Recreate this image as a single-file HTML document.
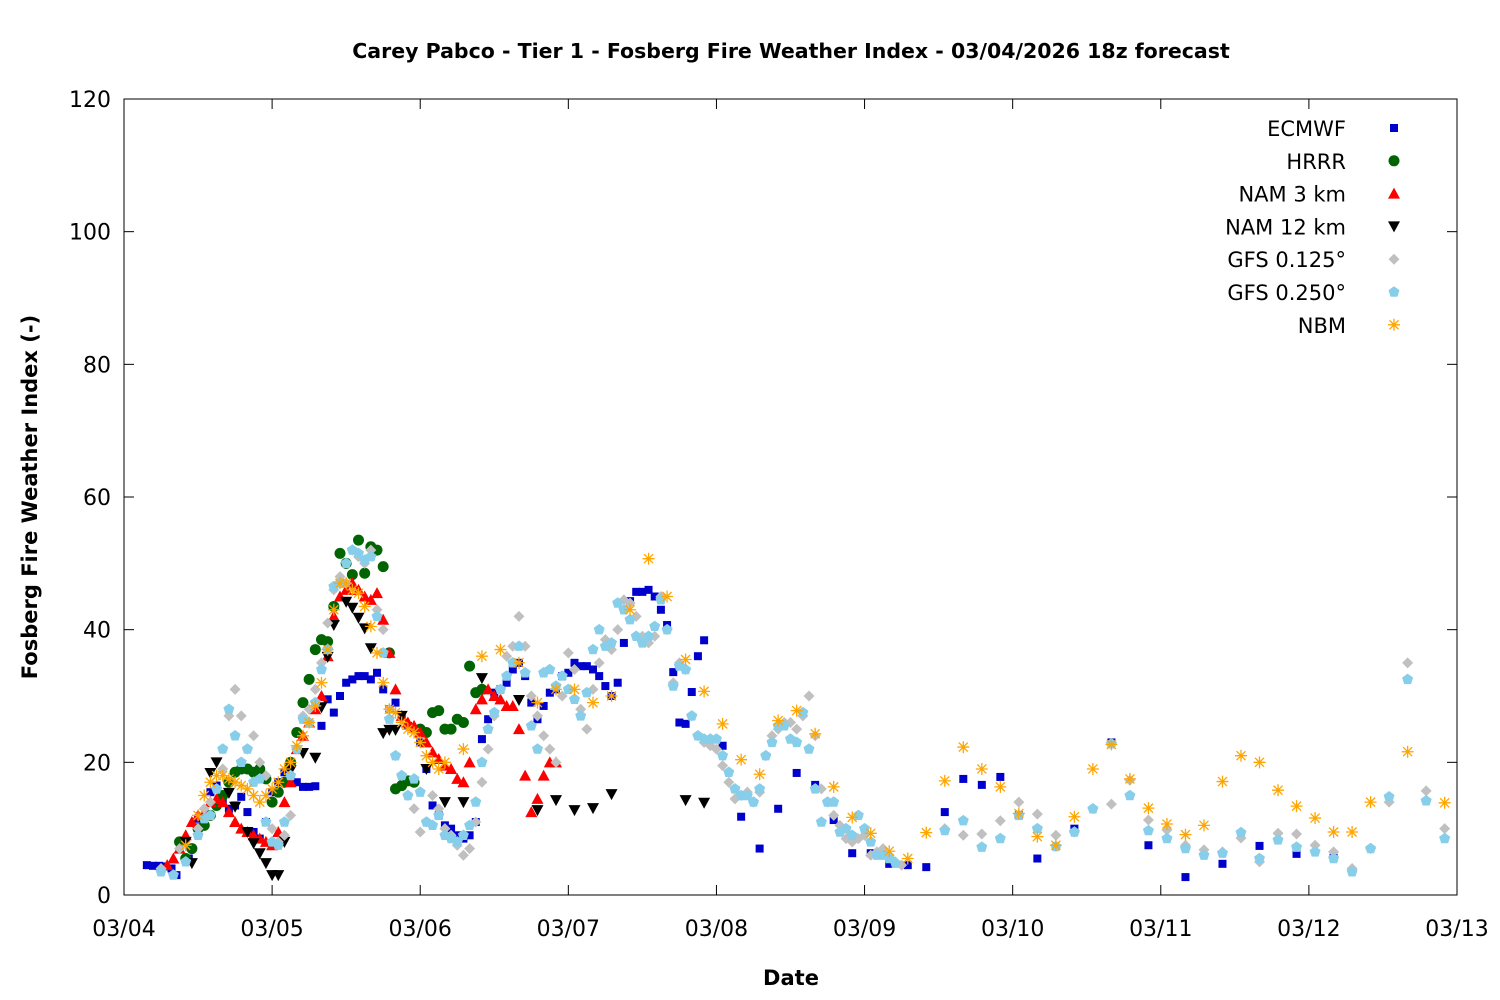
<!DOCTYPE html>
<html><head><meta charset="utf-8"><style>
body{margin:0;background:#fff}
svg{display:block;font-family:"DejaVu Sans","Liberation Sans",sans-serif}
</style></head><body>
<svg id="chart" width="1500" height="1000">
<rect width="1500" height="1000" fill="#fff"/>
<text x="791" y="58" text-anchor="middle" font-size="20.5" font-weight="bold">Carey Pabco - Tier 1 - Fosberg Fire Weather Index - 03/04/2026 18z forecast</text>
<text x="791" y="985" text-anchor="middle" font-size="21" font-weight="bold">Date</text>
<text transform="translate(37,497) rotate(-90)" text-anchor="middle" font-size="21" font-weight="bold">Fosberg Fire Weather Index (-)</text>
<g id="axes"></g><g id="marks"></g><g id="legend"></g>
</svg>
<script>
const xTickLabels=["03/04","03/05","03/06","03/07","03/08","03/09","03/10","03/11","03/12","03/13"];
const yTicks=[0,20,40,60,80,100,120];
const seriesNames=["ECMWF","HRRR","NAM 3 km","NAM 12 km","GFS 0.125°","GFS 0.250°","NBM"];
const ecmwf=[[3.7,4.5],[4.7,4.4],[5.7,4.4],[6.7,4.3],[7.7,4.0],[8.5,3.0],[10.5,5.5],[12,11.5],[14,15.5],[15,16.5],[16,14],[17,13],[18,13.5],[19,14.8],[20,12.5],[21,9.5],[22,8.5],[23,11],[24,15.5],[25,17],[26,18.5],[27,17.5],[28,17],[29,16.3],[30,16.3],[31,16.4],[32,25.5],[33,29.5],[34,27.5],[35,30],[36,32],[37,32.5],[38,33],[39,33],[40,32.5],[41,33.5],[42,31],[43,28],[44,29],[45,27],[46,25.5],[47,25],[48,23],[49,19],[50,13.5],[51,12],[52,10.5],[53,10],[54,9],[55,8.5],[56,9],[57,11],[58,23.5],[59,26.5],[60,30.5],[61,31],[62,32],[63,34],[64,35],[65,33],[66,29],[67,26.5],[68,28.5],[69,30.5],[70,31],[71,33],[72,33.5],[73,35],[74,34.5],[75,34.5],[76,34],[77,33],[78,31.5],[79,30],[80,32],[81,38],[82,44.3],[83,45.7],[84,45.7],[85,46],[86,45],[87,43],[88,40.7],[89,33.6],[90,26],[91,25.8],[92,30.6],[93,36],[94,38.4],[97,22.5],[100,11.8],[103,7],[106,13],[109,18.4],[112,16.6],[115,11.3],[118,6.3],[121,6.3],[124,4.7],[127,4.5],[130,4.2],[133,12.5],[136,17.5],[139,16.6],[142,17.8],[145,12],[148,5.5],[154,10],[160,23],[166,7.5],[172,2.7],[178,4.7],[184,7.4],[190,6.2],[196,5.6]];
const hrrr=[[9,8],[10,5.5],[11,7],[12,10],[13,10.5],[14,12],[15,13.5],[16,15],[17,17],[18,18.5],[19,19],[20,19],[21,18.5],[22,19],[23,17.5],[24,14],[25,15.5],[26,17],[27,20],[28,24.5],[29,29],[30,32.5],[31,37],[32,38.5],[33,38.2],[34,43.5],[35,51.5],[36,50],[37,48.3],[38,53.5],[39,48.5],[40,52.5],[41,52],[42,49.5],[43,36.5],[44,16],[45,16.5],[46,17.2],[47,17],[48,25],[49,24.5],[50,27.5],[51,27.8],[52,25],[53,25],[54,26.5],[55,26],[56,34.5],[57,30.5],[58,31]];
const nam3=[[7,4.5],[8,5.5],[9,7],[10,9],[11,11],[12,12],[13,12.5],[14,14],[15,14.5],[16,14],[17,12.5],[18,11],[19,10],[20,9.5],[21,9],[22,8.5],[23,8],[24,7.5],[25,9.5],[26,14],[27,17],[28,22],[29,24],[30,26],[31,28],[32,30],[33,36],[34,42],[35,45],[36,46],[37,47],[38,46],[39,45],[40,44.5],[41,45.5],[42,41.5],[43,36.5],[44,31],[45,27],[46,26],[47,25.5],[48,24.5],[49,23],[50,21.5],[51,20.5],[52,19.5],[53,19],[54,17.5],[55,17],[56,20],[57,28],[58,29.5],[59,31],[60,30],[61,29.5],[62,28.5],[63,28.5],[64,25],[65,18],[66,12.5],[67,14.5],[68,18],[69,20],[70,20]];
const nam12=[[10,8],[11,4.8],[14,18.4],[15,20],[17,15.4],[18,13.3],[20,9.5],[21,7.8],[22,6.3],[23,4.8],[24,3],[25,3],[26,8],[27,18.8],[29,21.4],[31,20.7],[32,28.3],[33,35.9],[34,40.7],[36,44.2],[37,43.3],[38,41.8],[39,40.2],[40,37.2],[42,24.4],[43,24.9],[44,24.9],[45,27],[49,19],[52,14],[55,14],[58,32.7],[64,29.4],[67,12.8],[70,14.3],[73,12.8],[76,13.1],[79,15.2],[85,38.6],[91,14.3],[94,13.9]];
const gfs125=[[6,4],[9,7],[12,10],[13,13],[14,14],[15,16],[16,19],[17,27],[18,31],[19,27],[20,22],[21,24],[22,20],[23,18],[24,10],[25,8],[26,9],[27,12],[28,22],[29,27],[30,28],[31,31],[32,35],[33,41],[34,46],[35,48],[36,47],[37,52],[38,51],[39,50],[40,52],[41,43],[42,40],[43,28],[44,21],[45,18],[46,15],[47,13],[48,9.5],[49,11],[50,15],[51,13],[52,10],[53,9],[54,7.5],[55,6],[56,7],[57,11],[58,17],[59,22],[60,27],[61,31],[62,36],[63,37.5],[64,42],[65,37.5],[66,30],[67,27],[68,24],[69,22],[70,20],[71,30],[72,36.5],[73,34],[74,28],[75,25],[76,31],[77,35],[78,38.5],[79,37],[80,40],[81,44.5],[82,44],[83,42],[84,39],[85,38],[86,39],[87,45],[88,40],[89,32],[90,35],[91,34],[92,27],[93,24],[94,23],[95,22.5],[96,22],[97,19.5],[98,17],[99,14.5],[100,15],[101,15.5],[102,14],[103,15.5],[104,21],[105,24],[106,25],[107,26],[108,26],[109,25],[110,27],[111,30],[112,24],[113,16],[114,14],[115,12],[116,10.5],[117,8.5],[118,8],[119,8.5],[120,9],[121,6],[122,6.5],[123,7],[124,6],[125,5],[126,4.5],[133,10],[136,9],[139,9.2],[142,11.2],[145,14],[148,12.2],[151,9],[154,9.5],[157,13],[160,13.7],[163,17.3],[166,11.3],[169,9.8],[172,7.5],[175,6.8],[178,6.5],[181,8.6],[184,5],[187,9.3],[190,9.2],[193,7.5],[196,6.5],[199,4],[202,7],[205,14],[208,35],[211,15.7],[214,10]];
const gfs250=[[6,3.5],[8,3],[10,5],[12,9],[13,11.5],[14,12],[15,16],[16,22],[17,28],[18,24],[19,20],[20,22],[21,17],[22,17.5],[23,11],[24,8],[25,7.5],[26,11],[27,18],[28,22],[29,26.5],[30,26],[31,29],[32,34],[33,37],[34,46.5],[35,47],[36,50],[37,52],[38,51.5],[39,50.5],[40,51],[41,42],[42,36.5],[43,26.5],[44,21],[45,18],[46,15],[47,17.5],[48,15.5],[49,11],[50,10.5],[51,12],[52,9],[53,8.5],[54,8],[55,9],[56,10.5],[57,14],[58,20],[59,25],[60,27.5],[61,31],[62,33],[63,35],[64,37.5],[65,33.5],[66,25.5],[67,22],[68,33.5],[69,34],[70,31.5],[71,33],[72,31],[73,29.5],[74,27],[75,30.5],[76,37],[77,40],[78,37.5],[79,38],[80,44],[81,43],[82,41.5],[83,39],[84,38],[85,39],[86,40.5],[87,44.5],[88,40],[89,31.5],[90,34.5],[91,34],[92,27],[93,24],[94,23.5],[95,23.5],[96,23.5],[97,21],[98,18.5],[99,16],[100,15],[101,15],[102,14],[103,16],[104,21],[105,23],[106,25.5],[107,25.5],[108,23.5],[109,23],[110,27.5],[111,22],[112,16],[113,11],[114,14],[115,14],[116,9.5],[117,10],[118,9],[119,12],[120,10],[121,8],[122,6],[123,6],[124,5.5],[125,4.8],[133,9.7],[136,11.2],[139,7.2],[142,8.5],[145,12],[148,10],[151,7.3],[154,9.5],[157,13],[160,22.8],[163,15],[166,9.7],[169,8.5],[172,7],[175,6],[178,6.3],[181,9.4],[184,5.5],[187,8.3],[190,7.2],[193,6.5],[196,5.5],[199,3.5],[202,7],[205,14.8],[208,32.5],[211,14.2],[214,8.5]];
const nbm=[[10,7.5],[12,12],[13,15],[14,17],[15,18],[16,18],[17,17.5],[18,17],[19,16.5],[20,16],[21,15],[22,14],[23,15],[24,16],[25,17],[26,19],[27,20],[28,22.5],[29,24],[30,26],[31,28.5],[32,32],[33,37],[34,43],[35,47],[36,47],[37,46],[38,45.5],[39,43.5],[40,40.5],[41,36.5],[42,32],[43,28],[44,27.5],[45,26],[46,25],[47,24.5],[48,23],[49,21],[50,20],[51,19],[52,20],[55,22],[58,36],[61,37],[64,35],[67,29],[70,31],[73,31],[76,29],[79,30],[82,43],[85,50.7],[88,45],[91,35.5],[94,30.7],[97,25.8],[100,20.4],[103,18.2],[106,26.3],[109,27.8],[112,24.3],[115,16.3],[118,11.7],[121,9.3],[124,6.6],[127,5.5],[130,9.4],[133,17.2],[136,22.3],[139,19],[142,16.3],[145,12.3],[148,8.8],[151,7.5],[154,11.8],[157,19],[160,22.7],[163,17.5],[166,13.1],[169,10.7],[172,9.1],[175,10.5],[178,17.1],[181,21],[184,20],[187,15.8],[190,13.4],[193,11.6],[196,9.5],[199,9.5],[202,14],[208,21.6],[214,13.9]];

const X0=124,X1=1457,Y0=895,Y1=99;
function xs(h){return X0+(X1-X0)*h/216;}
function ys(v){return Y0-(Y0-Y1)*v/120;}
const NS="http://www.w3.org/2000/svg";
function mk(tag,attrs,parent){const e=document.createElementNS(NS,tag);for(const k in attrs)e.setAttribute(k,attrs[k]);parent.appendChild(e);return e;}
const axes=document.getElementById('axes');
const frame=mk('rect',{x:X0,y:Y1,width:X1-X0,height:Y0-Y1,fill:'none',stroke:'#000','stroke-width':1},axes);


xTickLabels.forEach((l,i)=>{const x=xs(i*24);
 mk('line',{x1:x,x2:x,y1:Y0,y2:Y0-10,stroke:'#000'},axes);
 mk('line',{x1:x,x2:x,y1:Y1,y2:Y1+10,stroke:'#000'},axes);
 const t=mk('text',{x:x,y:Y0+41,'text-anchor':'middle','font-size':22},axes);t.textContent=l;
 
 });
yTicks.forEach(v=>{const y=ys(v);
 mk('line',{x1:X0,x2:X0+10,y1:y,y2:y,stroke:'#000'},axes);
 mk('line',{x1:X1,x2:X1-10,y1:y,y2:y,stroke:'#000'},axes);
 const t=mk('text',{x:X0-13,y:y+8,'text-anchor':'end','font-size':22},axes);t.textContent=v;
 
 });

function marker(kind,x,y,p){
 let e;
 if(kind==0)e=mk('rect',{x:x-4,y:y-4,width:8,height:8,fill:'#0000cc'},p);
 else if(kind==1)e=mk('circle',{cx:x,cy:y,r:5.5,fill:'#006400'},p);
 else if(kind==2)e=mk('polygon',{points:`${x},${y-6} ${x-6},${y+5} ${x+6},${y+5}`,fill:'#ff0000'},p);
 else if(kind==3)e=mk('polygon',{points:`${x},${y+6} ${x-6},${y-5} ${x+6},${y-5}`,fill:'#000'},p);
 else if(kind==4)e=mk('polygon',{points:`${x},${y-5.5} ${x+5.5},${y} ${x},${y+5.5} ${x-5.5},${y}`,fill:'#c0c0c0'},p);
 else if(kind==5){let pts=[];for(let i=0;i<5;i++){const a=-Math.PI/2+i*2*Math.PI/5;pts.push((x+5.8*Math.cos(a)).toFixed(1)+','+(y+5.8*Math.sin(a)).toFixed(1));}
  e=mk('polygon',{points:pts.join(' '),fill:'#87ceeb'},p);}
 else {e=mk('path',{d:`M${x-6},${y}H${x+6}M${x},${y-6}V${y+6}M${x-4.5},${y-4.5}L${x+4.5},${y+4.5}M${x-4.5},${y+4.5}L${x+4.5},${y-4.5}`,stroke:'#ffa500','stroke-width':1.3,fill:'none'},p);}
 return e;
}
const marks=document.getElementById('marks');
const allSeries=[ecmwf,hrrr,nam3,nam12,gfs125,gfs250,nbm];
const serNames=["ecmwf","hrrr","nam-3km","nam-12km","gfs-0125","gfs-0250","nbm"];
allSeries.forEach((s,k)=>{const g=mk('g',{},marks);
 
 
 s.forEach(d=>{const e=marker(k,xs(d[0]),ys(d[1]),g);
  
  });});
const leg=document.getElementById('legend');
seriesNames.forEach((n,i)=>{const y=128+i*32.8;
 const g=mk('g',{},leg);
 
 
 const t=mk('text',{x:1346,y:y+8,'text-anchor':'end','font-size':21},g);t.textContent=n;
 marker(i,1394,y,g);});
</script>
</body></html>
